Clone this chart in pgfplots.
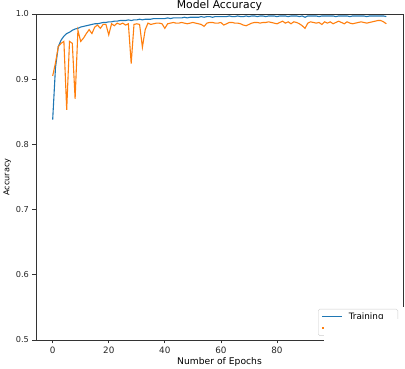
\documentclass[border=0pt]{standalone}
\usepackage{pgfplots}
\usepackage{pgfplotstable}
\pgfplotsset{compat=1.18}
\usepackage{fontspec}
\setmainfont{DejaVu Sans}
\definecolor{tabblue}{HTML}{1F77B4}
\definecolor{taborange}{HTML}{FF7F0E}

\pgfplotstableread{
ep train val
0 0.838 0.905
1 0.918 0.925
2 0.950 0.950
3 0.960 0.955
4 0.966 0.958
5 0.970 0.853
6 0.972 0.958
7 0.975 0.955
8 0.977 0.870
9 0.978 0.975
10 0.980 0.958
11 0.981 0.963
12 0.982 0.970
13 0.983 0.976
14 0.984 0.970
15 0.985 0.980
16 0.985 0.983
17 0.986 0.978
18 0.987 0.984
19 0.987 0.984
20 0.988 0.968
21 0.988 0.985
22 0.989 0.982
23 0.989 0.986
24 0.990 0.984
25 0.990 0.986
26 0.990 0.983
27 0.991 0.985
28 0.990 0.924
29 0.991 0.984
30 0.991 0.985
31 0.992 0.984
32 0.991 0.949
33 0.992 0.976
34 0.992 0.986
35 0.992 0.984
36 0.993 0.985
37 0.993 0.986
38 0.993 0.986
39 0.993 0.985
40 0.993 0.978
41 0.994 0.985
42 0.993 0.986
43 0.994 0.987
44 0.994 0.986
45 0.994 0.986
46 0.994 0.987
47 0.995 0.986
48 0.994 0.985
49 0.995 0.986
50 0.995 0.987
51 0.995 0.986
52 0.995 0.985
53 0.996 0.984
54 0.995 0.981
55 0.996 0.986
56 0.996 0.987
57 0.995 0.987
58 0.996 0.986
59 0.996 0.986
60 0.996 0.987
61 0.996 0.983
62 0.996 0.985
63 0.997 0.987
64 0.996 0.987
65 0.996 0.986
66 0.997 0.986
67 0.996 0.985
68 0.996 0.983
69 0.997 0.982
70 0.996 0.984
71 0.997 0.986
72 0.997 0.987
73 0.996 0.987
74 0.997 0.986
75 0.997 0.987
76 0.996 0.987
77 0.997 0.988
78 0.997 0.987
79 0.997 0.986
80 0.996 0.985
81 0.997 0.987
82 0.997 0.989
83 0.997 0.986
84 0.996 0.988
85 0.997 0.985
86 0.997 0.988
87 0.997 0.987
88 0.996 0.985
89 0.997 0.982
90 0.995 0.978
91 0.997 0.986
92 0.997 0.988
93 0.997 0.987
94 0.997 0.986
95 0.996 0.987
96 0.997 0.984
97 0.997 0.988
98 0.997 0.986
99 0.997 0.988
100 0.997 0.985
101 0.996 0.987
102 0.997 0.989
103 0.997 0.987
104 0.997 0.985
105 0.997 0.988
106 0.996 0.986
107 0.997 0.985
108 0.997 0.986
109 0.997 0.987
110 0.997 0.988
111 0.997 0.987
112 0.996 0.986
113 0.997 0.987
114 0.997 0.988
115 0.997 0.989
116 0.997 0.990
117 0.997 0.990
118 0.997 0.988
119 0.996 0.985
}\acctable

\begin{document}
\begin{tikzpicture}
\useasboundingbox (-36pt,-29pt) rectangle (369pt,340pt);
\begin{axis}[
  scale only axis, width=367pt, height=326pt,
  at={(0pt,0pt)}, anchor=south west,
  xmin=-5.95, xmax=124.95, ymin=0.5, ymax=1.0,
  xtick={0,20,40,60,80,100,120},
  ytick={0.5,0.6,0.7,0.8,0.9,1.0},
  xtick pos=bottom, ytick pos=left,
  tick align=outside, major tick length=3.5pt,
  tick style={black!80, line width=0.7pt},
  axis line style={black!80, line width=0.8pt},
  /pgf/number format/assume math mode=true,
  yticklabel style={/pgf/number format/.cd, fixed, fixed zerofill, precision=1, /tikz/.cd, font=\fontsize{8.2}{10}\selectfont, black!85},
  xticklabel style={font=\fontsize{8.8}{10}\selectfont, black!85},
  title={Model Accuracy},
  title style={font=\fontsize{10.8}{12}\selectfont, yshift=-6.5pt},
  xlabel={Number of Epochs},
  xlabel style={font=\fontsize{9.2}{11}\selectfont, yshift=3pt},
  ylabel={Accuracy},
  ylabel style={font=\fontsize{8.1}{10}\selectfont, yshift=-2pt},
  legend style={at={(0.9864,0.0951)}, anchor=north east, font=\fontsize{8.8}{10}\selectfont, draw=black!20, rounded corners=1.5pt, inner xsep=3.5pt, inner ysep=1.5pt, row sep=-1pt, /tikz/every odd column/.append style={column sep=4pt}},
  legend cell align=left,
  legend image code/.code={\draw[#1] (0pt,0pt) -- (20pt,0pt);},
]
\addplot[color=tabblue, line width=1.1pt] table[x=ep, y=train] {\acctable};
\addlegendentry{Training}
\addplot[color=taborange, line width=1.1pt] table[x=ep, y=val] {\acctable};
\addlegendentry{Validation}
\end{axis}
\fill[white] (288pt,21pt) rectangle (370pt,-30pt);
\fill[white] (363.5pt,33pt) rectangle (370pt,21pt);
\end{tikzpicture}
\end{document}
